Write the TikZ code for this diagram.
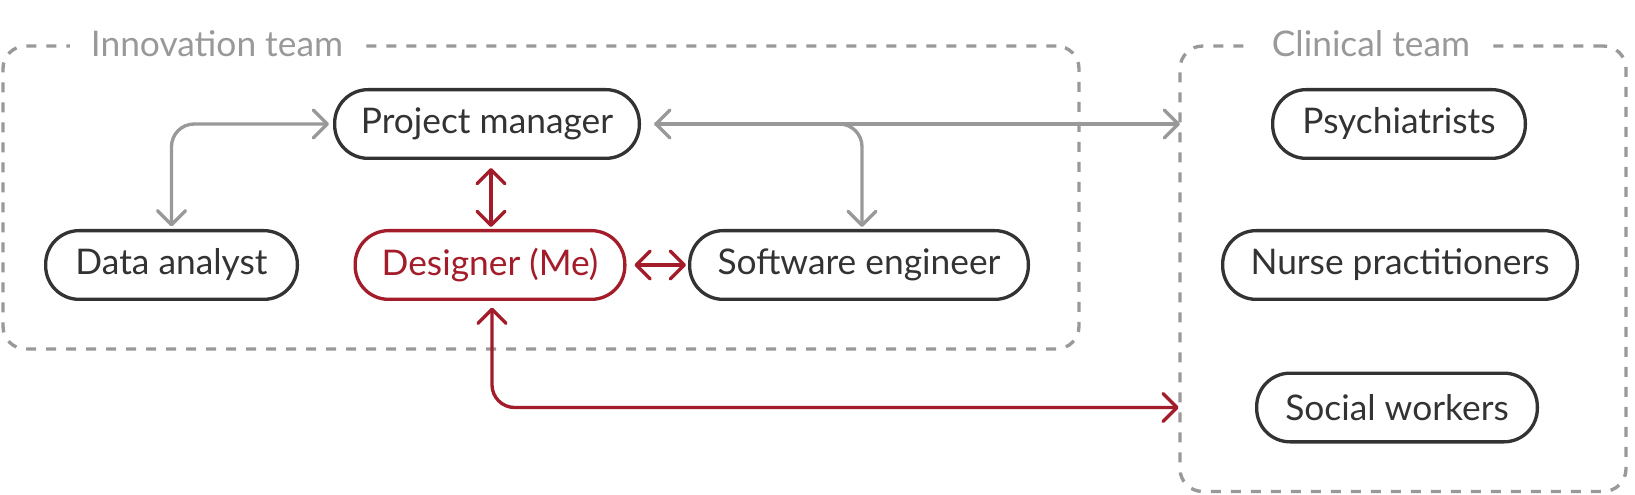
\documentclass[tikz,border=0pt]{standalone}
\usepackage{fontspec}
\setmainfont{Lato}
\usetikzlibrary{arrows.meta,calc}
\definecolor{dark}{HTML}{333333}
\definecolor{lgray}{HTML}{999999}
\definecolor{myred}{HTML}{A31C2A}
\begin{document}
\begin{tikzpicture}[x=0.75pt,y=-0.75pt,
  >={Straight Barb[length=10.5pt,width=21pt,round]},
  role/.style={draw=dark, line width=2.5pt, rounded corners=25pt, minimum height=51.5pt,
    inner sep=0pt, text=dark, font=\fontsize{26.5pt}{31pt}\selectfont},
  me/.style={role, draw=myred, text=myred},
  teambox/.style={draw=lgray, line width=2.5pt, dash pattern=on 7.5pt off 7.5pt,
    rounded corners=17pt, outer sep=0pt, inner sep=0pt},
  teamtitle/.style={fill=white, text=lgray, inner xsep=16pt, inner ysep=2pt,
    font=\fontsize{26.5pt}{31pt}\selectfont, anchor=base},
  garrow/.style={draw=lgray, line width=2.5pt, <->},
  rarrow/.style={draw=myred, line width=2.5pt, <->},
]
\useasboundingbox (0,0) rectangle (1635,495);
% team boxes
\node[teambox, minimum width=807pt, minimum height=227.25pt] (inno) at (541,197.5) {};
\node[teambox, minimum width=334.5pt, minimum height=334.1pt] (clin) at (1403,268.75) {};
\node[teamtitle] (innot) at (217,57) {Innovation team};
\node[teamtitle] (clint) at (1371,57) {Clinical team};
% roles
\node[role, minimum width=228.5pt] (pm) at (487,124) {Project manager};
\node[role, minimum width=188.75pt] (da) at (171.5,265) {Data analyst};
\node[me, minimum width=202.25pt] (des) at (490,265) {Designer (Me)};
\node[role, minimum width=254pt] (se) at (859,265) {Software engineer};
\node[role, minimum width=189.5pt] (psy) at (1399,124) {Psychiatrists};
\node[role, minimum width=266pt] (np) at (1400,265) {Nurse practitioners};
\node[role, minimum width=210.5pt] (sw) at (1397,407.5) {Social workers};
% gray connectors
\draw[garrow, rounded corners=17pt, shorten <=2pt, shorten >=3pt] (da.north) |- (pm.west);
\draw[garrow, shorten <=10pt] (pm.east) -- (pm.east -| clin.west);
\draw[garrow, ->, rounded corners=17pt, shorten <=10pt, shorten >=1.5pt] (pm.east) -| ($(se.north)+(3,0)$);
% red connectors
\draw[rarrow, shorten <=6pt, shorten >=1.5pt] ($(des.north |- pm.south)+(1,0)$) -- ($(des.north)+(1,0)$);
\draw[rarrow, shorten <=6pt, shorten >=1.5pt] (des.east) -- (se.west);
\draw[rarrow, rounded corners=17pt, shorten <=5pt, shorten >=1pt] ($(des.south)+(2,0)$) |- (sw.center -| clin.west);
\end{tikzpicture}
\end{document}
